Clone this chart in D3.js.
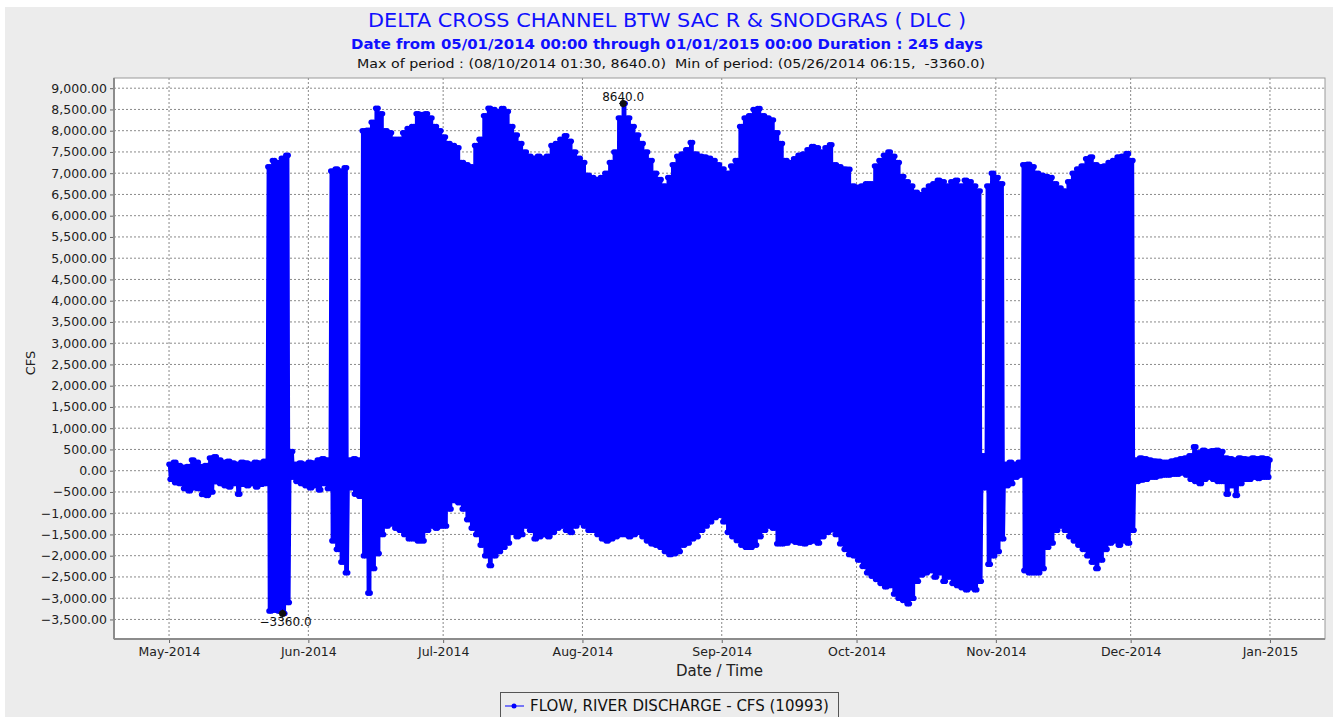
<!DOCTYPE html>
<html><head><meta charset="utf-8">
<script src="https://cdn.jsdelivr.net/npm/d3@7"></script>
<style>body{margin:0;background:#fff}svg{display:block}text{font-family:"DejaVu Sans",sans-serif}</style>
</head><body><svg id="c" width="1333" height="717"></svg>
<script>
// ---- data ----
const startDay = "2014-05-01";
// daily maximum flow (CFS), one value per day from 05/01/2014 through 01/01/2015
const dailyHigh = [150,200,120,80,100,250,200,100,120,300,330,250,200,220,180,150,200,180,150,200,180,220,
 7150,7300,7250,7350,7420,450,150,180,150,200,180,250,280,250,7050,7100,7050,7130,250,280,250,
 8000,8010,8200,8530,8400,8000,7950,7800,7800,7950,8050,8100,8400,8380,8400,8300,8100,8000,
 7850,7700,7650,7600,7250,7200,7150,7650,7800,8350,8530,8500,8450,8520,8450,8100,7900,7700,7500,7400,7350,7400,
 7350,7400,7650,7700,7800,7880,7750,7500,7350,7250,6950,6900,6850,6900,7000,7250,7500,8300,8640,8300,8100,7900,
 7700,7500,7300,7000,6850,6700,6900,7200,7400,7450,7550,7720,7450,7400,7380,7350,7300,7200,7100,7000,
 7170,7300,8100,8300,8350,8500,8520,8350,8300,8250,7950,7700,7300,7250,7340,7420,7450,7550,7630,7600,7500,7600,
 7670,7200,7150,7100,7090,6700,6670,6700,6750,6750,7170,7300,7420,7500,7400,7250,6920,6800,6700,6550,6500,
 6600,6700,6750,6835,6800,6700,6800,6835,6700,6835,6800,6700,6580,350,6700,7000,6900,6750,150,200,150,200,
 7200,7210,7150,7000,6950,6920,6900,6750,6650,6580,6800,7000,7100,7170,7340,7380,7200,7150,7170,7250,7300,7380,7400,7460,7300,
 250,300,280,250,230,220,200,200,230,250,280,300,350,560,420,480,450,470,480,450,300,280,250,300,280,270,300,280,300,280,250];
// daily minimum flow (CFS), same days
const dailyLow = [-200,-280,-300,-420,-470,-400,-420,-560,-580,-500,-260,-300,-350,-380,-300,-550,-320,-350,-300,-380,-320,-300,
 -3300,-3280,-3300,-3360,-3100,-150,-250,-300,-350,-400,-350,-450,-300,-420,-1650,-1850,-2150,-2400,-400,-550,-600,
 -2000,-2880,-2300,-1950,-1500,-1300,-1250,-1350,-1400,-1500,-1600,-1600,-1650,-1650,-1400,-1300,-1350,-1300,
 -1300,-900,-700,-750,-900,-1150,-1350,-1500,-1750,-2000,-2230,-2000,-1900,-1800,-1700,-1450,-1550,-1500,-1300,-1400,-1600,-1550,
 -1500,-1550,-1450,-1350,-1300,-1400,-1450,-1300,-1220,-1300,-1400,-1400,-1500,-1600,-1650,-1600,-1550,-1500,-1500,-1550,
 -1500,-1450,-1550,-1650,-1720,-1750,-1800,-1900,-1970,-1950,-1900,-1750,-1700,-1600,-1550,-1400,-1300,-1200,-1100,-1050,-1200,-1450,
 -1550,-1640,-1750,-1800,-1800,-1750,-1550,-1400,-1300,-1350,-1720,-1720,-1700,-1640,-1680,-1700,-1720,-1680,-1650,-1700,-1550,-1450,
 -1390,-1500,-1720,-1850,-1970,-2000,-2100,-2250,-2400,-2480,-2560,-2650,-2730,-2700,-2900,-3000,-3050,-3130,-3000,-2600,-2450,
 -2400,-2350,-2500,-2400,-2600,-2500,-2650,-2700,-2750,-2800,-2750,-2800,-2600,-400,-2200,-2000,-1900,-1600,-350,-300,-150,-100,
 -2350,-2400,-2400,-2400,-2300,-1800,-1700,-1400,-1300,-1400,-1550,-1650,-1750,-1850,-2000,-2150,-2300,-2100,-1850,-1700,-1650,-1750,-1650,-1700,-1400,
 -250,-220,-200,-150,-150,-120,-100,-100,-80,-80,-50,-100,-200,-250,-300,-200,-150,-200,-250,-250,-550,-350,-580,-300,-200,-200,-150,-180,-150,-150,-100];
const yTicks = [9000,8500,8000,7500,7000,6500,6000,5500,5000,4500,4000,3500,3000,2500,2000,1500,1000,500,0,-500,-1000,-1500,-2000,-2500,-3000,-3500];
const xTickDates = ["2014-05-01","2014-06-01","2014-07-01","2014-08-01","2014-09-01","2014-10-01","2014-11-01","2014-12-01","2015-01-01"];
const maxPoint = {date:"2014-08-10T01:30", value:8640};
const minPoint = {date:"2014-05-26T06:15", value:-3360};
const titleText = "DELTA CROSS CHANNEL BTW SAC R & SNODGRAS ( DLC )";
const subText = "Date from 05/01/2014 00:00 through 01/01/2015 00:00 Duration : 245 days";
const statText = "Max of period : (08/10/2014 01:30, 8640.0)  Min of period: (05/26/2014 06:15,  -3360.0)";
const legendText = "FLOW, RIVER DISCHARGE - CFS (10993)";

// ---- build series: two tidal cycles per day (high, low, high, low) ----
const parse = d3.timeParse("%Y-%m-%d");
const parseT = d3.timeParse("%Y-%m-%dT%H:%M");
const t0 = parse(startDay);
const series = [];
dailyHigh.forEach((h, i) => {
  const lo = dailyLow[i];
  const day = d3.timeDay.offset(t0, i);
  const n = (i === dailyHigh.length - 1) ? 1 : 4;
  for (let k = 0; k < n; k++) {
    series.push({t: d3.timeHour.offset(day, k * 6), v: k % 2 === 0 ? h : lo});
  }
});

// ---- layout ----
const svg = d3.select("#c");
const L = 114, R = 1325, T = 78, B = 639;
const blue = "#0000ff";
svg.append("rect").attr("x",5).attr("y",7).attr("width",1328).attr("height",710).attr("fill","#ececec");
svg.append("rect").attr("x",L).attr("y",T).attr("width",R-L).attr("height",B-T).attr("fill","#fff");

const tStart = parse(xTickDates[0]), tEnd = parse(xTickDates[xTickDates.length-1]);
const pad = (tEnd - tStart) * 0.05;
const x = d3.scaleTime().domain([new Date(+tStart - pad), new Date(+tEnd + pad)]).range([L, R]);
const y = d3.scaleLinear().domain([-3960, 9240]).range([B, T]);

// grid
const g = svg.append("g");
g.selectAll(".gy").data(yTicks).join("line")
  .attr("x1",L).attr("x2",R).attr("y1",d=>y(d)).attr("y2",d=>y(d))
  .attr("stroke","#8a8a8a").attr("stroke-width",1).attr("stroke-dasharray","2,2");
g.selectAll(".gx").data(xTickDates.map(parse)).join("line")
  .attr("x1",d=>x(d)).attr("x2",d=>x(d)).attr("y1",T).attr("y2",B)
  .attr("stroke","#8a8a8a").attr("stroke-width",1).attr("stroke-dasharray","2,2");

// axes
const fmt = d3.format(",.2f");
const yAxis = svg.append("g").attr("transform",`translate(${L},0)`)
  .call(d3.axisLeft(y).tickValues(yTicks).tickFormat(fmt).tickSize(4).tickPadding(3));
const xAxis = svg.append("g").attr("transform",`translate(0,${B})`)
  .call(d3.axisBottom(x).tickValues(xTickDates.map(parse)).tickFormat(d3.timeFormat("%b-%Y")).tickSize(4).tickPadding(4));
[yAxis, xAxis].forEach(a => {
  a.select(".domain").remove();
  a.selectAll("line").attr("stroke","#666");
  a.selectAll("text").attr("font-size",12.5).attr("fill","#222").style("font-family","'DejaVu Sans',sans-serif");
});
svg.append("rect").attr("x",L).attr("y",T).attr("width",R-L).attr("height",B-T)
  .attr("fill","none").attr("stroke","#9a9a9a").attr("stroke-width",1);
svg.append("line").attr("x1",L).attr("x2",L).attr("y1",T).attr("y2",B).attr("stroke","#8c8c8c").attr("stroke-width",2);
svg.append("line").attr("x1",L).attr("x2",R).attr("y1",B).attr("y2",B).attr("stroke","#8c8c8c").attr("stroke-width",2);

// data
svg.append("clipPath").attr("id","clip").append("rect").attr("x",L).attr("y",T).attr("width",R-L).attr("height",B-T);
const plot = svg.append("g").attr("clip-path","url(#clip)");
plot.append("path").datum(series)
  .attr("d", d3.line().x(d=>x(d.t)).y(d=>y(d.v)))
  .attr("fill","none").attr("stroke",blue).attr("stroke-width",2.6).attr("stroke-linejoin","round");
plot.selectAll("circle.pt").data(series).join("circle").attr("class","pt")
  .attr("cx",d=>x(d.t)).attr("cy",d=>y(d.v)).attr("r",2.8).attr("fill",blue);

// max/min markers
[[maxPoint, -3, 0], [minPoint, 12, 3]].forEach(([p, dy, dx]) => {
  const px = x(parseT(p.date)), py = y(p.value);
  svg.append("circle").attr("cx",px).attr("cy",py).attr("r",3.5).attr("fill","#111");
  svg.append("line").attr("x1",px-4).attr("x2",px+4).attr("y1",py).attr("y2",py).attr("stroke","#111");
  svg.append("line").attr("x1",px).attr("x2",px).attr("y1",py-4).attr("y2",py+4).attr("stroke","#111");
  svg.append("text").attr("x",px+dx).attr("y",py+dy).attr("text-anchor","middle")
    .attr("font-size",12).attr("fill","#111").text(d3.format(".1f")(p.value));
});

// titles
const cx = 667;
svg.append("text").attr("x",cx).attr("y",27).attr("text-anchor","middle").attr("font-size",20).attr("fill","#1010ff")
  .attr("textLength",598).attr("lengthAdjust","spacingAndGlyphs").text(titleText);
svg.append("text").attr("x",cx).attr("y",49).attr("text-anchor","middle").attr("font-size",14.5).attr("font-weight","bold").attr("fill","#1010ff")
  .attr("textLength",632).attr("lengthAdjust","spacingAndGlyphs").text(subText);
svg.append("text").attr("x",671).attr("y",68).attr("text-anchor","middle").attr("font-size",13).attr("fill","#111")
  .style("white-space","pre").attr("textLength",628).attr("lengthAdjust","spacingAndGlyphs").text(statText);
svg.append("text").attr("x",(L+R)/2).attr("y",676).attr("text-anchor","middle").attr("font-size",15).attr("fill","#222").text("Date / Time");
svg.append("text").attr("transform","translate(35,363) rotate(-90)").attr("text-anchor","middle").attr("font-size",13).attr("fill","#222").text("CFS");

// legend
const lg = svg.append("g");
lg.append("rect").attr("x",500.5).attr("y",692.5).attr("width",338).attr("height",40).attr("fill","none").attr("stroke","#555").attr("stroke-width",1);
lg.append("line").attr("x1",505).attr("x2",524).attr("y1",706).attr("y2",706).attr("stroke",blue).attr("stroke-width",1);
lg.append("circle").attr("cx",514).attr("cy",706).attr("r",2.5).attr("fill",blue);
lg.append("text").attr("x",530).attr("y",711).attr("font-size",15).attr("fill","#111").text(legendText);
</script></body></html>
